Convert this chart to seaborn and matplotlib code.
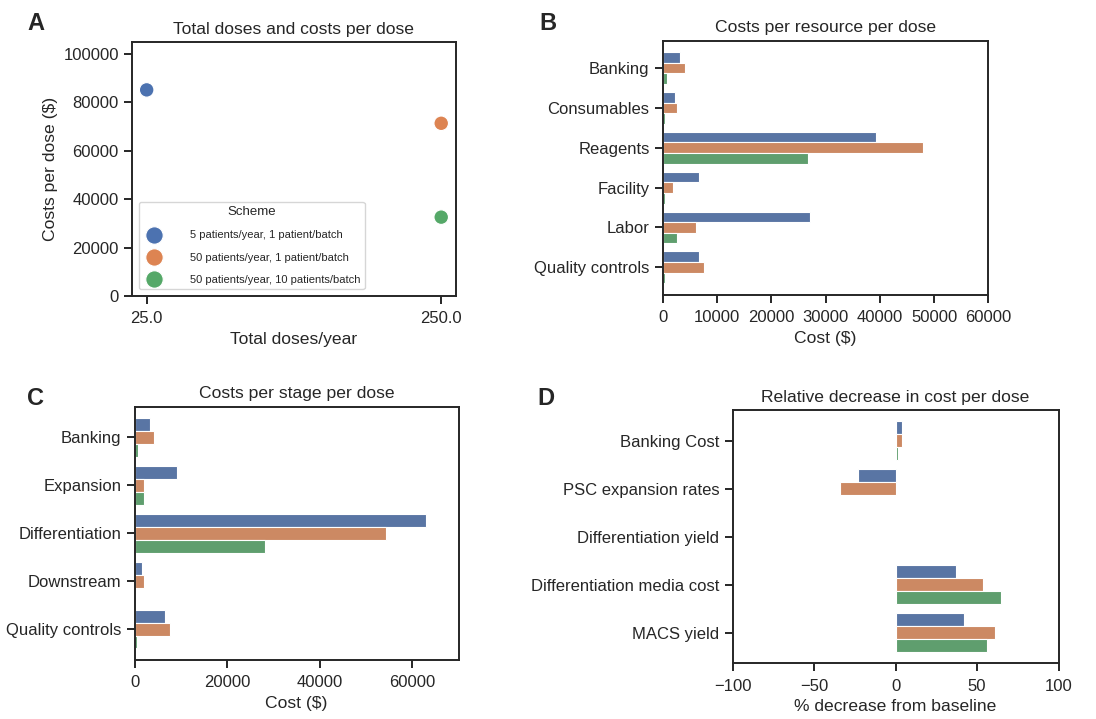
import numpy as np
import pandas as pd
import matplotlib.pyplot as plt
import seaborn as sns

schemes = ['5 patients/year, 1 patient/batch',
           '50 patients/year, 1 patient/batch',
           '50 patients/year, 10 patients/batch']

# panel A
doses = [25.0, 250.0, 250.0]
cost_per_dose = [85200, 71400, 32600]

# panel B
resources = ['Banking', 'Consumables', 'Reagents', 'Facility', 'Labor', 'Quality controls']
res_s1 = [3200, 2330, 39250, 6630, 27210, 6630]
res_s2 = [4050, 2640, 48030, 1900, 6200, 7680]
res_s3 = [740, 370, 26720, 370, 2700, 370]

# panel C
stages = ['Banking', 'Expansion', 'Differentiation', 'Downstream', 'Quality controls']
stage_s1 = [3240, 9230, 63010, 1510, 6630]
stage_s2 = [4180, 1950, 54290, 1950, 7710]
stage_s3 = [720, 2090, 28260, 0, 430]

# panel D
params = ['Banking Cost', 'PSC expansion rates', 'Differentiation yield',
          'Differentiation media cost', 'MACS yield']
dec_s1 = [3.7, -23.3, 0, 36.8, 41.7]
dec_s2 = [3.7, -34.4, 0, 53.8, 60.7]
dec_s3 = [1.5, 0, 0, 64.6, 55.8]


def long_table(cats, s1, s2, s3):
    rows = []
    for vals, sch in zip([s1, s2, s3], schemes):
        for c, v in zip(cats, vals):
            rows.append({'cat': c, 'val': v, 'Scheme': sch})
    return pd.DataFrame(rows)


sns.set_theme(style='ticks', palette='deep')
plt.rcParams['font.family'] = ['Liberation Sans', 'DejaVu Sans']
plt.rcParams['axes.linewidth'] = 1.4
plt.rcParams['axes.edgecolor'] = '#262626'

fig = plt.figure(figsize=(10.96, 7.19), dpi=100)
axA = fig.add_axes([0.1204, 0.5883, 0.2956, 0.3533])
axB = fig.add_axes([0.6047, 0.5901, 0.2971, 0.3533])
axC = fig.add_axes([0.1229, 0.0821, 0.2956, 0.3523])
axD = fig.add_axes([0.6685, 0.0775, 0.2974, 0.3523])

fs = 12
fl = 12.6

# A: scatter
dfA = pd.DataFrame({'x': doses, 'y': cost_per_dose, 'Scheme': schemes})
sns.scatterplot(data=dfA, x='x', y='y', hue='Scheme', s=110, ax=axA)
axA.set_ylim(0, 105000)
axA.set_xticks(sorted(set(doses)))
axA.set_xticklabels(['%.1f' % d for d in sorted(set(doses))])
axA.set_xlabel('Total doses/year', fontsize=fl)
axA.set_ylabel('Costs per dose ($)', fontsize=fl)
axA.set_title('Total doses and costs per dose', fontsize=fl)
leg = axA.legend(title='Scheme', loc='lower left', fontsize=8, title_fontsize=9.5,
                 markerscale=1.2, handletextpad=2.2, labelspacing=1.1,
                 borderaxespad=0.6)


def bars(ax, cats, s1, s2, s3, title, xlabel, xlim):
    df = long_table(cats, s1, s2, s3)
    sns.barplot(data=df, x='val', y='cat', hue='Scheme', orient='h', ax=ax,
                edgecolor='white', linewidth=0.8, legend=False)
    n = len(cats)
    m = 0.05 * (n - 0.2)
    ax.set_ylim(n - 0.6 + m, -0.4 - m)
    ax.set_xlim(*xlim)
    ax.set_title(title, fontsize=fl)
    ax.set_xlabel(xlabel, fontsize=fl)
    ax.set_ylabel('')


bars(axB, resources, res_s1, res_s2, res_s3, 'Costs per resource per dose', 'Cost ($)', (0, 60000))
axB.set_xticks(np.arange(0, 60001, 10000))
bars(axC, stages, stage_s1, stage_s2, stage_s3, 'Costs per stage per dose', 'Cost ($)', (0, 70000))
axC.set_xticks(np.arange(0, 60001, 20000))
bars(axD, params, dec_s1, dec_s2, dec_s3, 'Relative decrease in cost per dose',
     '% decrease from baseline', (-100, 100))
axD.set_xticks([-100, -50, 0, 50, 100])

for ax in [axA, axB, axC, axD]:
    for s in ax.spines.values():
        s.set_visible(True)
    ax.tick_params(labelsize=fs, length=6, width=1.4, color='#262626')
    ax.tick_params(axis='x', pad=5)

for lab, x, y in [('A', 0.025, 0.983), ('B', 0.492, 0.983), ('C', 0.025, 0.462), ('D', 0.49, 0.462)]:
    fig.text(x, y, lab, fontsize=17, fontweight='bold', va='top', ha='left')

fig.savefig('out.png', dpi=100)
